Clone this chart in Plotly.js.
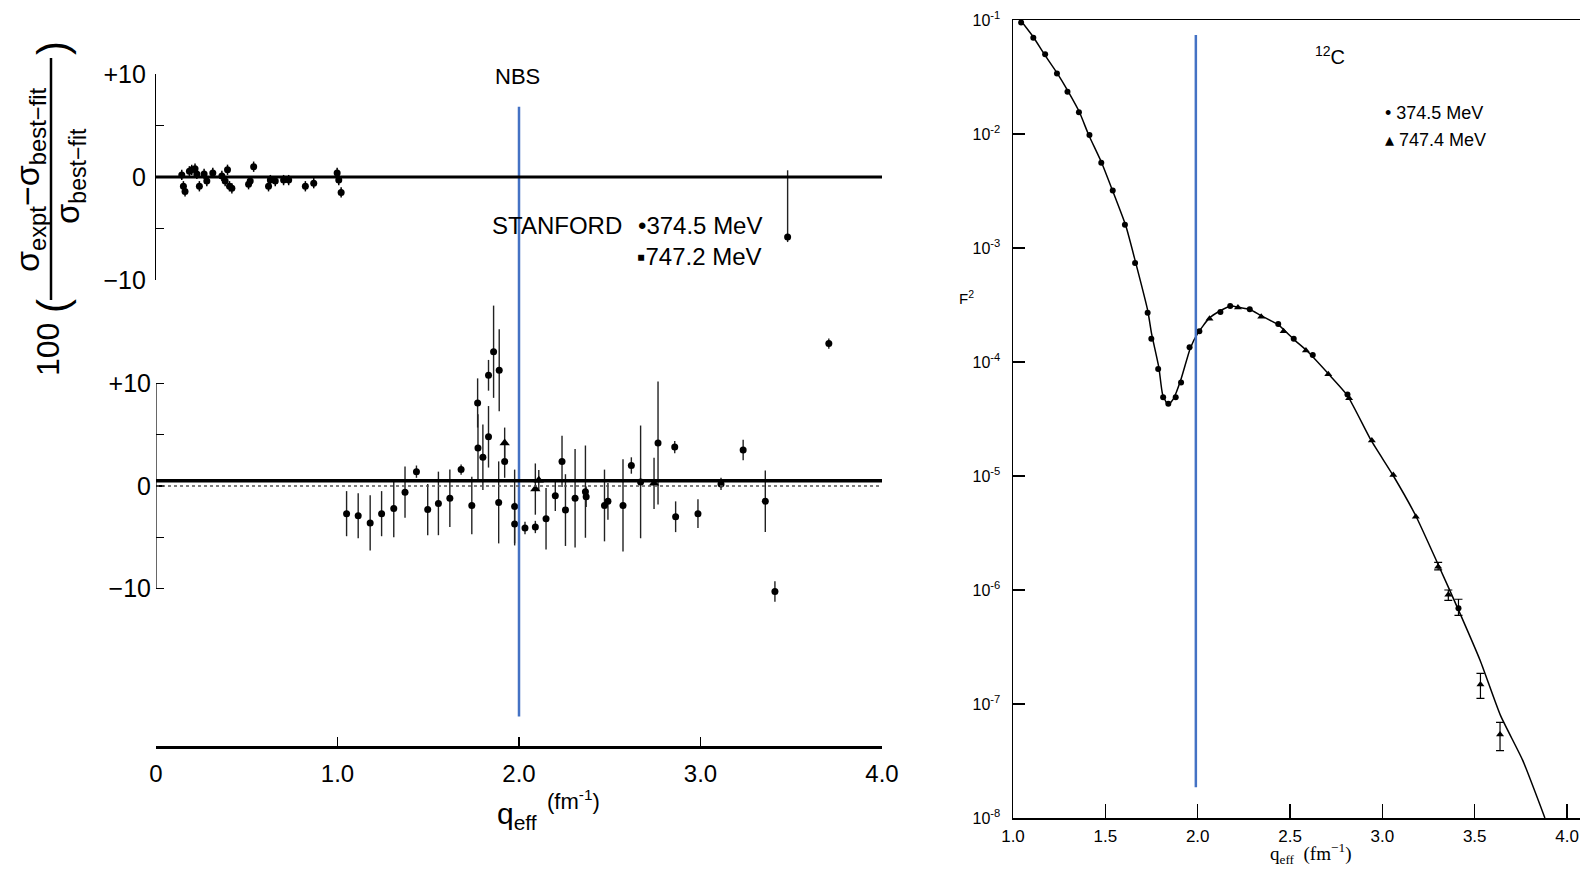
<!DOCTYPE html>
<html><head><meta charset="utf-8">
<script src="https://cdn.plot.ly/plotly-3.0.1.min.js"></script>
<style>html,body{margin:0;padding:0;background:#fff}#chart{width:1580px;height:873px}</style>
</head><body><div id="chart"></div>
<script>
// ---------- LEFT PANEL DATA (deviation from best fit, %) ----------
const qTickVals = [0, 1, 2, 3, 4];
const qTickText = ['0', '1.0', '2.0', '3.0', '4.0'];
const devTickVals = [-10, -5, 0, 5, 10];
const devTickText = ['\u221210', ' ', '0', ' ', '+10'];

// NBS
const nbsQ = [0.142,0.151,0.160,0.184,0.197,0.215,0.225,0.239,0.265,0.280,0.313,0.363,0.381,0.394,0.405,0.418,0.510,0.519,0.538,0.620,0.630,0.657,0.703,0.731,0.823,0.869,0.998,1.007,1.020];
const nbsDev = [0.2,-0.9,-1.4,0.55,0.7,0.8,0.3,-0.9,0.3,-0.4,0.4,0.1,-0.4,0.7,-0.9,-1.1,-0.7,-0.4,1.0,-0.9,-0.3,-0.4,-0.3,-0.3,-0.9,-0.6,0.4,-0.3,-1.5];
const nbsErr = [0.5,0.5,0.5,0.5,0.5,0.5,0.5,0.5,0.5,0.5,0.5,0.5,0.5,0.5,0.5,0.5,0.5,0.5,0.5,0.5,0.5,0.5,0.5,0.5,0.5,0.5,0.5,0.5,0.5];

// STANFORD 374.5 MeV
const st374Q = [1.050,1.114,1.180,1.243,1.310,1.372,1.435,1.497,1.556,1.619,1.681,1.740,1.772,1.774,1.801,1.832,1.832,1.860,1.891,1.888,1.921,1.976,1.976,2.033,2.090,2.149,2.200,2.237,2.256,2.309,2.366,2.370,2.471,2.490,2.573,2.619,2.670,2.766,2.858,2.863,2.986,3.113,3.235,3.357,3.410,3.480,3.707];
const st374Dev = [-2.7,-2.9,-3.6,-2.7,-2.2,-0.6,1.4,-2.3,-1.7,-1.2,1.6,-1.9,8.1,3.7,2.8,4.8,10.8,13.1,11.3,-1.6,2.4,-2.0,-3.7,-4.1,-4.0,-3.2,-0.95,2.4,-2.35,-1.2,-0.55,-1.05,-1.9,-1.5,-1.9,2.0,0.4,4.2,3.8,-3.0,-2.7,0.2,3.5,-1.5,-10.3,24.3,13.9];
const st374ErrUp = [2.2,2.2,2.7,2.2,2.8,2.5,0.6,2.5,3.1,2.8,0.5,2.8,2.4,3.3,3.2,3.0,1.5,4.5,4.0,4.0,1.6,3.6,2.1,0.6,0.6,3.0,1.5,2.5,3.5,4.8,4.5,1.0,3.5,1.8,4.5,0.8,5.5,6.0,0.6,1.5,1.4,0.6,1.0,3.0,1.0,6.5,0.5];
const st374ErrDown = [2.2,2.2,2.7,2.2,2.8,2.5,0.6,2.5,3.1,2.8,0.5,2.8,2.4,3.3,3.2,3.0,1.5,4.5,4.0,4.0,1.6,3.6,2.1,0.6,0.6,3.0,1.5,2.5,3.5,4.8,4.5,1.0,3.5,1.8,4.5,0.8,5.5,6.0,0.6,1.5,1.4,0.6,1.0,3.0,1.0,0.5,0.5];

// STANFORD 747.2 MeV
const st747Q = [1.921, 2.090, 2.109, 2.744];
const st747Dev = [4.2, -0.3, 0.55, 0.26];
const st747Err = [1.5, 2.5, 1.0, 2.5];

const bestFitLevel = 0.5;      // thick reference line in Stanford panel
const markQ = 2.0;              // blue marker line
const leftBlueDev = [-22.5, 37];

// ---------- RIGHT PANEL DATA (F^2 for 12C) ----------
const rTickVals = [1, 1.5, 2, 2.5, 3, 3.5, 4];
const rTickText = ['1.0', '1.5', '2.0', '2.5', '3.0', '3.5', '4.0'];
const fTickVals = [1e-8,1e-7,1e-6,1e-5,1e-4,1e-3,1e-2,1e-1];
const fTickText = ['10<sup>-8</sup>','10<sup>-7</sup>','10<sup>-6</sup>','10<sup>-5</sup>','10<sup>-4</sup>','10<sup>-3</sup>','10<sup>-2</sup>','10<sup>-1</sup>'];

const c374Q = [1.044,1.110,1.174,1.238,1.295,1.357,1.414,1.478,1.540,1.606,1.661,1.729,1.749,1.786,1.813,1.841,1.881,1.910,1.956,2.009,2.123,2.176,2.282,2.436,2.520,2.623,2.811];
const c374F = [9.5e-2,7.0e-2,5.0e-2,3.4e-2,2.35e-2,1.55e-2,9.8e-3,5.6e-3,3.2e-3,1.6e-3,7.4e-4,2.7e-4,1.6e-4,8.7e-5,4.9e-5,4.3e-5,4.9e-5,6.6e-5,1.35e-4,1.86e-4,2.75e-4,3.1e-4,2.9e-4,2.15e-4,1.6e-4,1.15e-4,5.2e-5];
const c374eQ = [3.412];
const c374eF = [6.9e-7];
const c374eHi = [8.3e-7];
const c374eLo = [6.0e-7];

const t747Q = [2.064,2.218,2.344,2.465,2.586,2.707,2.820,2.943,3.059,3.181];
const t747F = [2.4e-4,3.0e-4,2.5e-4,1.86e-4,1.26e-4,7.8e-5,4.8e-5,2.05e-5,1.02e-5,4.4e-6];
const t747eQ = [3.302,3.357,3.531,3.637];
const t747eF = [1.6e-6,9.1e-7,1.48e-7,5.4e-8];
const t747eHi = [1.75e-6,1.0e-6,1.86e-7,6.9e-8];
const t747eLo = [1.5e-6,8.1e-7,1.12e-7,3.9e-8];

const fitQ = [1.04,1.11,1.17,1.24,1.30,1.36,1.41,1.48,1.54,1.61,1.66,1.73,1.75,1.79,1.81,1.84,1.87,1.91,1.96,2.00,2.06,2.12,2.18,2.23,2.28,2.34,2.44,2.52,2.59,2.71,2.81,2.94,3.06,3.18,3.30,3.41,3.53,3.64,3.76,3.88];
const fitF = [1.0e-1,7.1e-2,5.0e-2,3.4e-2,2.34e-2,1.55e-2,9.8e-3,5.6e-3,3.16e-3,1.58e-3,7.9e-4,2.8e-4,1.78e-4,8.9e-5,5.2e-5,4.2e-5,4.8e-5,7.1e-5,1.32e-4,1.78e-4,2.4e-4,2.8e-4,3.1e-4,3.0e-4,2.9e-4,2.57e-4,2.1e-4,1.58e-4,1.26e-4,7.8e-5,5.1e-5,2.04e-5,1.0e-5,4.5e-6,1.7e-6,6.8e-7,2.4e-7,7.9e-8,3.2e-8,1.0e-8];

const rightBlueQ = [1.99, 1.99];
const rightBlueF = [7.4e-2, 1.86e-8];

// ---------- helpers ----------
const W = 1580, H = 873;
const px = x => x / W, py = y => 1 - y / H;
const SANS = 'Liberation Sans, Arial, sans-serif';
const SERIF = 'Liberation Serif, Times New Roman, serif';
const blue = '#4472C4';

function diff(a, b) { return a.map((v, i) => v - b[i]); }

const traces = [
  {x: nbsQ, y: nbsDev, xaxis: 'x', yaxis: 'y', mode: 'markers', type: 'scatter',
   marker: {symbol: 'circle', size: 7, color: '#000'},
   error_y: {type: 'data', array: nbsErr, visible: true, color: '#000', thickness: 1.5, width: 0}},
  {x: st374Q, y: st374Dev, xaxis: 'x', yaxis: 'y2', mode: 'markers', type: 'scatter',
   marker: {symbol: 'circle', size: 7, color: '#000'},
   error_y: {type: 'data', symmetric: false, array: st374ErrUp, arrayminus: st374ErrDown, visible: true, color: '#222', thickness: 1.4, width: 0}},
  {x: st747Q, y: st747Dev, xaxis: 'x', yaxis: 'y2', mode: 'markers', type: 'scatter',
   marker: {symbol: 'triangle-up', size: 9, color: '#000'},
   error_y: {type: 'data', array: st747Err, visible: true, color: '#222', thickness: 1.4, width: 0}},
  {x: [markQ, markQ], y: leftBlueDev, xaxis: 'x', yaxis: 'y2', mode: 'lines', type: 'scatter',
   line: {color: blue, width: 2.5}},
  {x: fitQ, y: fitF, xaxis: 'x3', yaxis: 'y3', mode: 'lines', type: 'scatter',
   line: {color: '#000', width: 1.5, shape: 'spline', smoothing: 0.5}},
  {x: c374Q, y: c374F, xaxis: 'x3', yaxis: 'y3', mode: 'markers', type: 'scatter',
   marker: {symbol: 'circle', size: 6, color: '#000'}},
  {x: c374eQ, y: c374eF, xaxis: 'x3', yaxis: 'y3', mode: 'markers', type: 'scatter',
   marker: {symbol: 'circle', size: 6, color: '#000'},
   error_y: {type: 'data', symmetric: false, array: diff(c374eHi, c374eF), arrayminus: diff(c374eF, c374eLo), visible: true, color: '#000', thickness: 1.2, width: 4}},
  {x: t747Q, y: t747F, xaxis: 'x3', yaxis: 'y3', mode: 'markers', type: 'scatter',
   marker: {symbol: 'triangle-up', size: 7, color: '#000'}},
  {x: t747eQ, y: t747eF, xaxis: 'x3', yaxis: 'y3', mode: 'markers', type: 'scatter',
   marker: {symbol: 'triangle-up', size: 7, color: '#000'},
   error_y: {type: 'data', symmetric: false, array: diff(t747eHi, t747eF), arrayminus: diff(t747eF, t747eLo), visible: true, color: '#000', thickness: 1.2, width: 4}},
  {x: rightBlueQ, y: rightBlueF, xaxis: 'x3', yaxis: 'y3', mode: 'lines', type: 'scatter',
   line: {color: blue, width: 2.5}}
];

const y2Top = (486 - 76) / 10.25, y2Bot = (486 - 746) / 10.25;

const layout = {
  width: W, height: H,
  margin: {l: 0, r: 0, t: 0, b: 0, pad: 0},
  paper_bgcolor: '#fff', plot_bgcolor: 'rgba(0,0,0,0)',
  showlegend: false, hovermode: false,
  font: {family: SANS, color: '#000'},
  xaxis: {
    domain: [px(156), px(882)], range: [0, 4], anchor: 'y2',
    tickvals: qTickVals, ticktext: qTickText, ticks: 'inside', ticklen: 9, tickwidth: 1.5, tickcolor: '#000',
    showline: true, linewidth: 3, linecolor: '#000', showgrid: false, zeroline: false,
    tickfont: {family: SANS, size: 24}, ticklabelstandoff: 4
  },
  yaxis: {
    domain: [py(280), py(74)], range: [-10, 10], anchor: 'x',
    tickvals: devTickVals, ticktext: devTickText, ticks: 'inside', ticklen: 8, tickwidth: 1.2, tickcolor: '#000',
    showline: true, linewidth: 1.2, linecolor: '#000', showgrid: false, zeroline: false,
    tickfont: {family: SANS, size: 25}, ticklabelstandoff: 4
  },
  yaxis2: {
    domain: [py(746), py(76)], range: [y2Bot, y2Top], anchor: 'x',
    tickvals: devTickVals, ticktext: devTickText, ticks: 'inside', ticklen: 8, tickwidth: 1.2, tickcolor: '#000',
    showline: false, showgrid: false, zeroline: false,
    tickfont: {family: SANS, size: 25}, ticklabelstandoff: 4
  },
  xaxis3: {
    domain: [px(1013), 1], range: [1, 4.07], anchor: 'y3',
    tickvals: rTickVals, ticktext: rTickText, ticks: 'inside', ticklen: 14, tickwidth: 1.3, tickcolor: '#000',
    showline: true, linewidth: 1.5, linecolor: '#000', mirror: true, showgrid: false, zeroline: false,
    tickfont: {family: SANS, size: 17}, ticklabelstandoff: 2
  },
  yaxis3: {
    domain: [py(818), py(20)], type: 'log', range: [-8, -1], anchor: 'x3',
    tickvals: fTickVals, ticktext: fTickText, ticks: 'inside', ticklen: 12, tickwidth: 1.3, tickcolor: '#000',
    showline: true, linewidth: 1.5, linecolor: '#000', showgrid: false, zeroline: false,
    tickfont: {family: SANS, size: 16}, ticklabelstandoff: 8
  },
  shapes: [
    {type: 'line', xref: 'x', yref: 'y', x0: 0, x1: 4, y0: 0, y1: 0, line: {color: '#000', width: 3}},
    {type: 'line', xref: 'x', yref: 'y2', x0: 0, x1: 4, y0: 0, y1: 0, line: {color: '#555', width: 1.3, dash: 'dot'}},
    {type: 'line', xref: 'x', yref: 'y2', x0: 0, x1: 4, y0: bestFitLevel, y1: bestFitLevel, line: {color: '#000', width: 3.5}},
    {type: 'line', xref: 'x', yref: 'y2', x0: 0, x1: 0, y0: -10, y1: 10, line: {color: '#000', width: 1.2}},
    {type: 'line', xref: 'paper', yref: 'paper', x0: px(51), x1: px(51), y0: py(58), y1: py(300), line: {color: '#000', width: 2.5}}
  ],
  annotations: [
    {xref: 'paper', yref: 'paper', x: px(517), y: py(76), text: 'NBS', showarrow: false, xanchor: 'center', yanchor: 'middle', font: {family: SANS, size: 22}},
    {xref: 'paper', yref: 'paper', x: px(490), y: py(226), text: 'STANFORD', showarrow: false, xanchor: 'left', yanchor: 'middle', font: {family: SANS, size: 24}},
    {xref: 'paper', yref: 'paper', x: px(764), y: py(226), text: '\u2022374.5 MeV', showarrow: false, xanchor: 'right', yanchor: 'middle', font: {family: SANS, size: 24}},
    {xref: 'paper', yref: 'paper', x: px(764), y: py(256), text: '\u25AA747.2 MeV', showarrow: false, xanchor: 'right', yanchor: 'middle', font: {family: SANS, size: 24}},
    {xref: 'paper', yref: 'paper', x: px(48), y: py(350), text: '100', textangle: -90, showarrow: false, xanchor: 'center', yanchor: 'middle', font: {family: SANS, size: 32}},
    {xref: 'paper', yref: 'paper', x: px(52), y: py(306), text: '(', textangle: -90, showarrow: false, xanchor: 'center', yanchor: 'middle', font: {family: SANS, size: 42}},
    {xref: 'paper', yref: 'paper', x: px(52), y: py(48), text: ')', textangle: -90, showarrow: false, xanchor: 'center', yanchor: 'middle', font: {family: SANS, size: 42}},
    {xref: 'paper', yref: 'paper', x: px(30), y: py(180), text: '\u03C3<sub>expt</sub>\u2212\u03C3<sub>best\u2212fit</sub>', textangle: -90, showarrow: false, xanchor: 'center', yanchor: 'middle', font: {family: SANS, size: 34}},
    {xref: 'paper', yref: 'paper', x: px(70), y: py(176), text: '\u03C3<sub>best\u2212fit</sub>', textangle: -90, showarrow: false, xanchor: 'center', yanchor: 'middle', font: {family: SANS, size: 33}},
    {xref: 'paper', yref: 'paper', x: px(517), y: py(815), text: 'q<sub>eff</sub>', showarrow: false, xanchor: 'center', yanchor: 'middle', font: {family: SANS, size: 30}},
    {xref: 'paper', yref: 'paper', x: px(545), y: py(800), text: '(fm<sup>-1</sup>)', showarrow: false, xanchor: 'left', yanchor: 'middle', font: {family: SANS, size: 22}},
    {xref: 'paper', yref: 'paper', x: px(966), y: py(297), text: 'F<sup>2</sup>', showarrow: false, xanchor: 'center', yanchor: 'middle', font: {family: SANS, size: 15}},
    {xref: 'paper', yref: 'paper', x: px(1330), y: py(55), text: '<sup>12</sup>C', showarrow: false, xanchor: 'center', yanchor: 'middle', font: {family: SANS, size: 20}},
    {xref: 'paper', yref: 'paper', x: px(1383), y: py(113), text: '\u2022 374.5 MeV', showarrow: false, xanchor: 'left', yanchor: 'middle', font: {family: SANS, size: 18}},
    {xref: 'paper', yref: 'paper', x: px(1383), y: py(140), text: '\u25B4 747.4 MeV', showarrow: false, xanchor: 'left', yanchor: 'middle', font: {family: SANS, size: 18}},
    {xref: 'paper', yref: 'paper', x: px(1310), y: py(853), text: 'q<sub>eff</sub>  (fm<sup>\u22121</sup>)', showarrow: false, xanchor: 'center', yanchor: 'middle', font: {family: SERIF, size: 19}}
  ]
};

Plotly.newPlot('chart', traces, layout, {staticPlot: true, displayModeBar: false});
</script></body></html>
